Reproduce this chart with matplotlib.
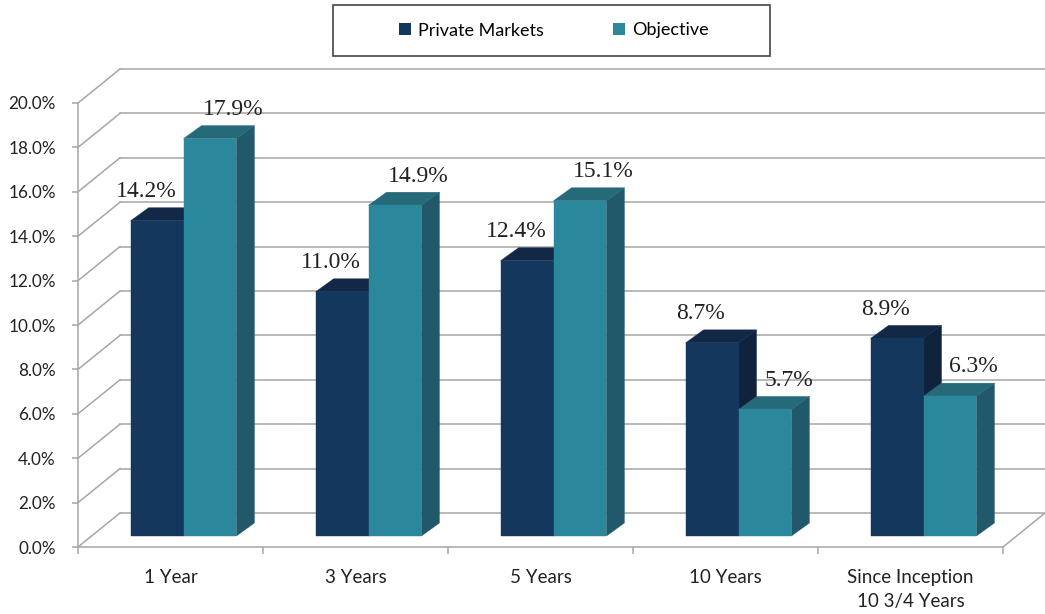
import matplotlib
matplotlib.use("Agg")
import matplotlib.pyplot as plt
from matplotlib.patches import Polygon, Rectangle, Patch

categories = ["1 Year", "3 Years", "5 Years", "10 Years", "Since Inception\n10 3/4 Years"]
private_markets = [14.2, 11.0, 12.4, 8.7, 8.9]
objective = [17.9, 14.9, 15.1, 5.7, 6.3]
series_names = ["Private Markets", "Objective"]
yticks = [0, 2, 4, 6, 8, 10, 12, 14, 16, 18, 20]

W, H = 1045, 614
fig = plt.figure(figsize=(W / 100, H / 100), dpi=100)
# front plane of the chart in pixels
x_left, x_right, y_bot, y_top = 78, 1003, 547, 103
ax = fig.add_axes([x_left / W, (H - y_bot) / H, (x_right - x_left) / W, (y_bot - y_top) / H])
ax.set_xlim(-0.5, len(categories) - 0.5)
ax.set_ylim(0, 20)
ax.patch.set_visible(False)

px_x = (x_right - x_left) / len(categories)   # pixels per category unit
px_y = (y_bot - y_top) / 20.0                 # pixels per percent

# oblique projection offsets (data units)
back_dx, back_dy = 42 / px_x, 34 / px_y       # back wall
bar_dx, bar_dy = 13 / px_x, 11 / px_y         # plane of bar fronts
dep_dx, dep_dy = 18 / px_x, 13 / px_y         # bar depth

grid_c = "#a6a6a6"
lw = 1.1
x0 = -0.5
x1 = len(categories) - 0.5
for y in yticks:
    ax.plot([x0 + back_dx, x1 + back_dx], [y + back_dy, y + back_dy], color=grid_c, lw=lw, clip_on=False, zorder=1)
    ax.plot([x0, x0 + back_dx], [y, y + back_dy], color=grid_c, lw=lw, clip_on=False, zorder=1)
ax.plot([x1, x1 + back_dx], [0, back_dy], color=grid_c, lw=lw, clip_on=False, zorder=1)

colors = {
    0: ("#14375e", "#112846", "#0f233d"),
    1: ("#2b889c", "#266a7a", "#21596a"),
}
bw = 0.286
label_off = [-8, 17]  # points, horizontal nudge per series
for s, vals in enumerate([private_markets, objective]):
    front, top, side = colors[s]
    for i, v in enumerate(vals):
        xa = i - bw + s * bw + bar_dx
        xb = xa + bw
        yb = bar_dy
        yt = v + bar_dy
        ax.add_patch(Polygon([(xb, yb), (xb + dep_dx, yb + dep_dy), (xb + dep_dx, yt + dep_dy), (xb, yt)],
                             closed=True, facecolor=side, edgecolor=side, lw=0.3, clip_on=False, zorder=3 + s))
        ax.add_patch(Polygon([(xa, yt), (xb, yt), (xb + dep_dx, yt + dep_dy), (xa + dep_dx, yt + dep_dy)],
                             closed=True, facecolor=top, edgecolor=top, lw=0.3, clip_on=False, zorder=3 + s))
        ax.add_patch(Rectangle((xa, yb), bw, v, facecolor=front, edgecolor=front, lw=0.3, clip_on=False, zorder=3 + s))
        ax.annotate(f"{v:.1f}%", xy=((xa + xb) / 2, yt), xytext=(label_off[s], 21), textcoords="offset points",
                    ha="center", va="center", fontsize=17, family="Liberation Serif", color="#222222",
                    zorder=6, annotation_clip=False)

# axes styling
for sp in ["top", "right"]:
    ax.spines[sp].set_visible(False)
for sp in ["left", "bottom"]:
    ax.spines[sp].set_color(grid_c)
    ax.spines[sp].set_linewidth(lw)
ax.set_yticks(yticks)
ax.set_yticklabels([f"{t:.1f}%" for t in yticks], family="Lato", fontsize=12.3, color="#222222")
ax.tick_params(axis="y", length=4, width=lw, color=grid_c, pad=12)
ax.set_xticks([i - 0.5 for i in range(len(categories) + 1)])
ax.set_xticklabels([])
ax.tick_params(axis="x", which="major", length=5, width=lw, color=grid_c)
ax.set_xticks(list(range(len(categories))), minor=True)
ax.set_xticklabels(categories, minor=True, family="Lato", fontsize=13.5, color="#222222", linespacing=1.5)
ax.tick_params(axis="x", which="minor", length=0, pad=16)

# legend
fig.add_artist(Rectangle((333 / W, 1 - 56 / H), (770 - 333) / W, 51 / H, transform=fig.transFigure,
                         facecolor="white", edgecolor="#444444", lw=1.2))
handles = [Patch(facecolor=colors[0][0]), Patch(facecolor=colors[1][0])]
fig.legend(handles, series_names, loc="center", bbox_to_anchor=(554 / W, 1 - 30.5 / H), ncol=2,
           frameon=False, handlelength=0.65, handleheight=0.65, handletextpad=0.4, columnspacing=3.8,
           prop={"family": "Lato", "size": 13})

fig.savefig("out.png", dpi=100)
